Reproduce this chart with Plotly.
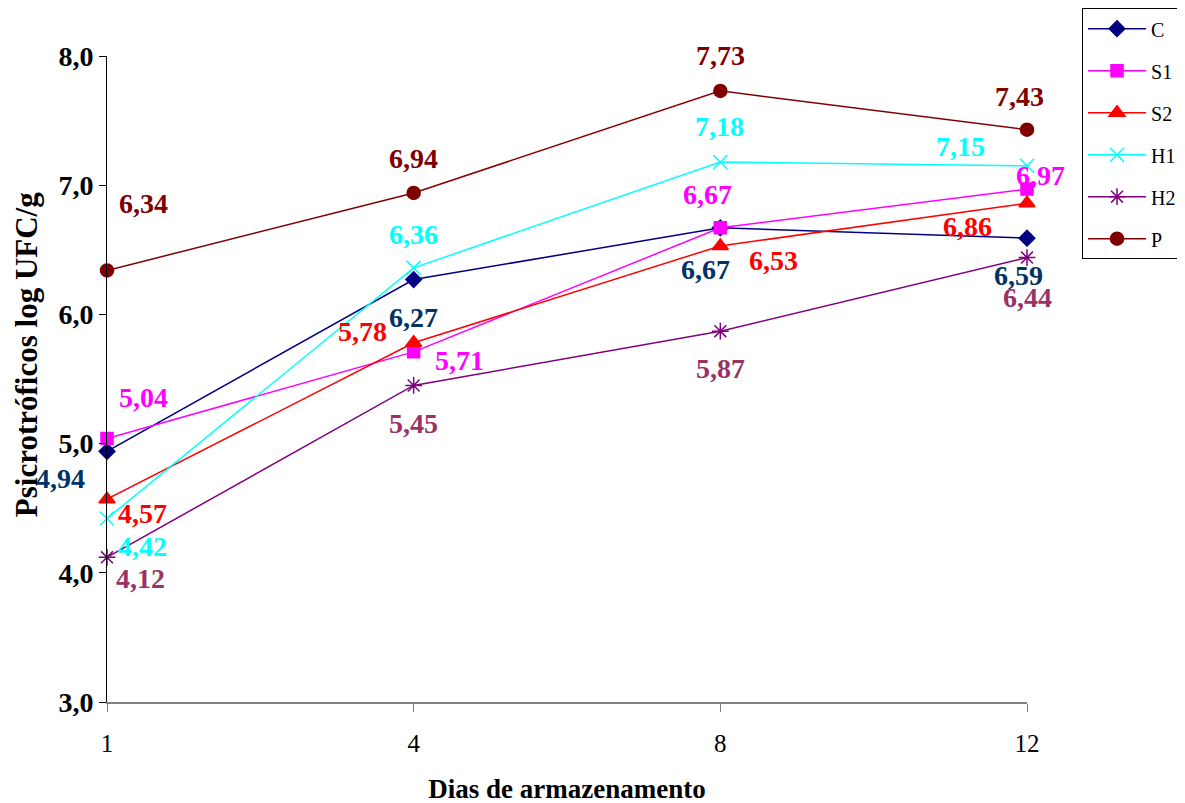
import plotly.graph_objects as go

days = ["1", "4", "8", "12"]
series_names = ["C", "S1", "S2", "H1", "H2", "P"]
C = [4.94, 6.27, 6.67, 6.59]
S1 = [5.04, 5.71, 6.67, 6.97]
S2 = [4.57, 5.78, 6.53, 6.86]
H1 = [4.42, 6.36, 7.18, 7.15]
H2 = [4.12, 5.45, 5.87, 6.44]
P = [6.34, 6.94, 7.73, 7.43]
values = [C, S1, S2, H1, H2, P]

line_colors = ["#000080", "#FF00FF", "#FF0000", "#00FFFF", "#800080", "#800000"]
label_colors = ["#003366", "#FF00FF", "#FF0000", "#00FFFF", "#993366", "#800000"]
symbols = ["diamond", "square", "triangle-up", "x-thin-open", "asterisk-open", "circle"]
msizes = [12, 12, 14, 14, 14, 13]

# label pixel offsets (dx, dy) relative to each point
offsets = [
    [(-47, -27), (0, -38), (-15, -42), (-9, -37)],
    [(36, 41), (46, -9), (-13, 33), (13, 14)],
    [(35, -14), (-51, 11), (53, -15), (-60, -23)],
    [(35, -28), (0, 33), (-1, 35), (-67, 19)],
    [(33, -21), (0, -38), (0, -37), (0, -40)],
    [(36, 67), (0, 34), (0, 35), (-8, 33)],
]

fig = go.Figure()
annotations = []
for i, name in enumerate(series_names):
    fig.add_trace(go.Scatter(
        x=days, y=values[i], name=name, mode="lines+markers",
        legendgroup=name,
        line=dict(color=line_colors[i], width=1.5),
        marker=dict(symbol=symbols[i], size=msizes[i], color=line_colors[i],
                    line=dict(color=line_colors[i], width=1.5)),
        cliponaxis=False,
    ))
    for j, d in enumerate(days):
        dx, dy = offsets[i][j]
        annotations.append(dict(
            x=j, y=values[i][j], xref="x", yref="y",
            text=f"{values[i][j]:.2f}".replace(".", ","),
            showarrow=False, xshift=dx, yshift=dy,
            font=dict(family="Liberation Serif", size=28, color=label_colors[i], weight="bold"),
        ))

# y-axis title (placed as paper annotation to match reference vertical position)
annotations.append(dict(
    x=-0.088, y=0.537, xref="paper", yref="paper",
    text="<b>Psicrotróficos log UFC/g</b>", textangle=-90,
    showarrow=False, xanchor="center", yanchor="middle",
    font=dict(family="Liberation Serif", size=31, color="black"),
))

fig.update_layout(
    width=1185, height=803,
    margin=dict(l=99, r=166, t=48, b=109, autoexpand=False),
    plot_bgcolor="white", paper_bgcolor="white",
    separators=",.",
    font=dict(family="Liberation Serif", color="black"),
    annotations=annotations,
    showlegend=True,
    legend=dict(
        x=1.0598, y=1.074, xanchor="left", yanchor="top",
        bordercolor="black", borderwidth=1, bgcolor="white",
        font=dict(family="Liberation Serif", size=20, color="black"),
        tracegroupgap=13, itemwidth=58,
    ),
    xaxis=dict(
        type="category", range=[0, 3],
        showgrid=False, zeroline=False,
        showline=True, linecolor="#808080", linewidth=2,
        ticks="outside", ticklen=8, tickcolor="#808080",
        ticklabelstandoff=10,
        tickfont=dict(family="Liberation Serif", size=25, color="black"),
        title=dict(text="<b>Dias de armazenamento</b>", standoff=23,
                   font=dict(family="Liberation Serif", size=27, color="black")),
    ),
    yaxis=dict(
        range=[3, 8], dtick=1, tick0=3, tickformat=".1f",
        showgrid=False, zeroline=False,
        showline=True, linecolor="black", linewidth=1,
        ticks="outside", ticklen=7, tickcolor="black",
        tickfont=dict(family="Liberation Serif", size=28, color="black", weight="bold"),
    ),
)

fig.write_html("out.html")
